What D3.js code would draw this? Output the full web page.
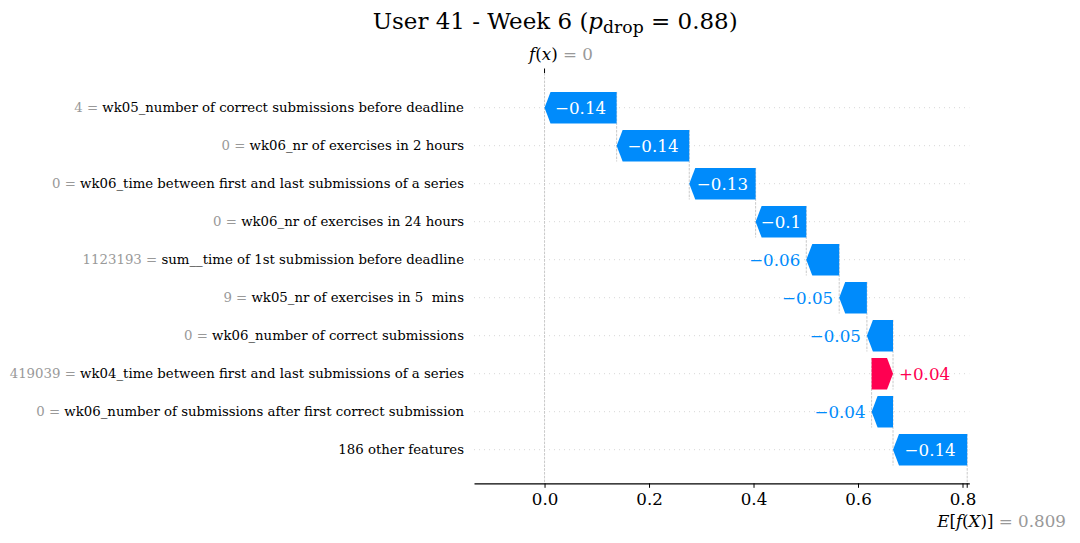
<!DOCTYPE html>
<html>
<head>
<meta charset="utf-8">
<script src="https://cdn.jsdelivr.net/npm/d3@7"></script>
<style>
  body { margin: 0; background: #fff; }
  svg { display: block; font-family: "DejaVu Serif", serif; }
  text { white-space: pre; }
</style>
</head>
<body>
<svg width="1080" height="543"></svg>
<script>
  // Feature names, top row first
  var features = [
    "wk05_number of correct submissions before deadline",
    "wk06_nr of exercises in 2 hours",
    "wk06_time between first and last submissions of a series",
    "wk06_nr of exercises in 24 hours",
    "sum__time of 1st submission before deadline",
    "wk05_nr of exercises in 5  mins",
    "wk06_number of correct submissions",
    "wk04_time between first and last submissions of a series",
    "wk06_number of submissions after first correct submission",
    "186 other features"
  ];
  // Feature values shown in grey before the name ("" = none)
  var featureValues = ["4", "0", "0", "0", "1123193", "9", "0", "419039", "0", ""];
  // SHAP contributions
  var shapValues = [-0.138, -0.139, -0.127, -0.097, -0.063, -0.053, -0.050, 0.041, -0.041, -0.142];
  var baseValue = 0.809;
  var xTicks = [0.0, 0.2, 0.4, 0.6, 0.8];

  var blue = "#008bfb", red = "#ff0051";
  var axTop = 73, axBottom = 483.3;

  var svg = d3.select("svg");

  // cumulative positions, starting from E[f(X)] at the bottom row
  var from = [], to = [];
  var cum = baseValue;
  for (var i = features.length - 1; i >= 0; i--) {
    from[i] = cum;
    cum += shapValues[i];
    to[i] = cum;
  }
  var fx = Math.abs(cum) < 0.0005 ? 0 : cum;

  // Scales
  var xScale = d3.scaleLinear().domain([-0.135, 0.813]).range([474, 969.3]);
  var yScale = d3.scaleBand()
    .domain(features)
    .range([88.7, 468.7])
    .paddingInner(0.17)
    .paddingOuter(0.085);
  var bw = yScale.bandwidth();
  function yc(d) { return yScale(d) + bw / 2; }

  // Horizontal dotted row lines
  svg.append("g")
    .selectAll("line")
    .data(features)
    .enter()
    .append("line")
    .attr("x1", xScale.range()[0])
    .attr("x2", xScale.range()[1])
    .attr("y1", yc)
    .attr("y2", yc)
    .attr("stroke", "#cccccc")
    .attr("stroke-width", 0.8)
    .attr("stroke-dasharray", "1 4");

  // f(x) line
  svg.append("line")
    .attr("x1", xScale(fx)).attr("x2", xScale(fx))
    .attr("y1", axTop).attr("y2", axBottom)
    .attr("stroke", "#bbbbbb").attr("stroke-width", 0.8)
    .attr("stroke-dasharray", "2.6 1.2");

  // connector lines between bars
  svg.append("g")
    .selectAll("line")
    .data(features)
    .enter()
    .append("line")
    .attr("x1", function(d, i) { return xScale(from[i]); })
    .attr("x2", function(d, i) { return xScale(from[i]); })
    .attr("y1", function(d) { return yScale(d); })
    .attr("y2", function(d, i) {
      return i < features.length - 1 ? yScale(features[i + 1]) + bw : axBottom;
    })
    .attr("stroke", "#bbbbbb").attr("stroke-width", 0.8)
    .attr("stroke-dasharray", "2.6 1.2");

  // Arrow-shaped bars
  function arrow(d, i) {
    var x0 = xScale(from[i]), x1 = xScale(to[i]);
    var top = yScale(d), bot = top + bw, mid = top + bw / 2;
    var dir = x1 > x0 ? 1 : -1;
    var hl = Math.min(6, Math.abs(x1 - x0));
    var xb = x1 - dir * hl;
    return [[x0, top], [xb, top], [x1, mid], [xb, bot], [x0, bot]]
      .map(function(p) { return p.join(","); }).join(" ");
  }
  svg.append("g")
    .selectAll("polygon")
    .data(features)
    .enter()
    .append("polygon")
    .attr("points", arrow)
    .attr("fill", function(d, i) { return shapValues[i] < 0 ? blue : red; });

  // Value labels on / beside bars
  var fmt = d3.format("+.2f");
  function fmtVal(v) {
    return fmt(v).replace(/0+$/, "").replace(/\.$/, "").replace("-", "\u2212");
  }
  svg.append("g")
    .selectAll("text")
    .data(features)
    .enter()
    .append("text")
    .attr("y", function(d) { return yc(d); })
    .attr("dy", "0.36em")
    .style("font-size", "16.7px")
    .text(function(d, i) { return fmtVal(shapValues[i]); })
    .each(function(d, i) {
      var x0 = xScale(from[i]), x1 = xScale(to[i]);
      var w = this.getComputedTextLength();
      var t = d3.select(this);
      if (w + 8 < Math.abs(x1 - x0)) {
        t.attr("x", (x0 + x1) / 2).attr("text-anchor", "middle").attr("fill", "#fff");
      } else if (shapValues[i] < 0) {
        t.attr("x", x1 - 6).attr("text-anchor", "end").attr("fill", blue);
      } else {
        t.attr("x", x1 + 6).attr("text-anchor", "start").attr("fill", red);
      }
    });

  // Feature labels
  var lab = svg.append("g")
    .selectAll("text")
    .data(features)
    .enter()
    .append("text")
    .attr("x", 464)
    .attr("y", function(d) { return yc(d); })
    .attr("dy", "0.36em")
    .attr("text-anchor", "end")
    .style("font-size", "13.3px");
  lab.append("tspan")
    .attr("fill", "#999999")
    .text(function(d, i) { return featureValues[i] === "" ? "" : featureValues[i] + " = "; });
  lab.append("tspan")
    .attr("fill", "#000")
    .text(function(d) { return d; });

  // Bottom axis
  var xAxis = d3.axisBottom(xScale)
    .tickValues(xTicks)
    .tickFormat(d3.format(".1f"))
    .tickSize(4.5)
    .tickPadding(5)
    .tickSizeOuter(0);
  var gx = svg.append("g")
    .attr("transform", "translate(0," + axBottom + ")")
    .call(xAxis);
  gx.select(".domain").attr("stroke-width", 1.2);
  gx.selectAll(".tick line").attr("stroke-width", 1);
  gx.selectAll("text")
    .style("font-family", "DejaVu Serif")
    .style("font-size", "16.7px")
    .attr("fill", "#000");

  // E[f(X)] tick and label
  svg.append("line")
    .attr("x1", xScale(baseValue)).attr("x2", xScale(baseValue))
    .attr("y1", axBottom).attr("y2", axBottom + 4.5)
    .attr("stroke", "#000").attr("stroke-width", 1);
  var eLab = svg.append("text")
    .attr("x", xScale(baseValue) - 30)
    .attr("y", 526.7)
    .style("font-size", "16.7px");
  eLab.append("tspan").style("font-style", "italic").text("E");
  eLab.append("tspan").text("[");
  eLab.append("tspan").style("font-style", "italic").text("f");
  eLab.append("tspan").text("(");
  eLab.append("tspan").style("font-style", "italic").text("X");
  eLab.append("tspan").text(")]");
  eLab.append("tspan").attr("fill", "#999999").text(" = " + d3.format(".3f")(baseValue));

  // f(x) tick and label at the top
  svg.append("line")
    .attr("x1", xScale(fx)).attr("x2", xScale(fx))
    .attr("y1", axTop - 4.5).attr("y2", axTop)
    .attr("stroke", "#000").attr("stroke-width", 1);
  var fLab = svg.append("text")
    .attr("x", xScale(fx) - 15.5)
    .attr("y", 60)
    .style("font-size", "16.7px");
  fLab.append("tspan").style("font-style", "italic").text("f");
  fLab.append("tspan").text("(");
  fLab.append("tspan").style("font-style", "italic").text("x");
  fLab.append("tspan").text(")");
  fLab.append("tspan").attr("fill", "#999999").text(" = " + d3.format(".0f")(fx));

  // Title, sized so it spans the same width as the original
  var title = svg.append("text")
    .attr("x", 555.2)
    .attr("y", 28.5)
    .attr("text-anchor", "middle")
    .style("font-size", "22px");
  title.append("tspan").text("User 41 - Week 6 (");
  title.append("tspan").style("font-style", "italic").text("p");
  title.append("tspan").attr("dy", 4.5).style("font-size", "0.75em").text("drop");
  title.append("tspan").attr("dy", -4.5).text(" = 0.88)");
  var tw = title.node().getComputedTextLength();
  title.style("font-size", (22 * 365 / tw).toFixed(2) + "px");
</script>
</body>
</html>
